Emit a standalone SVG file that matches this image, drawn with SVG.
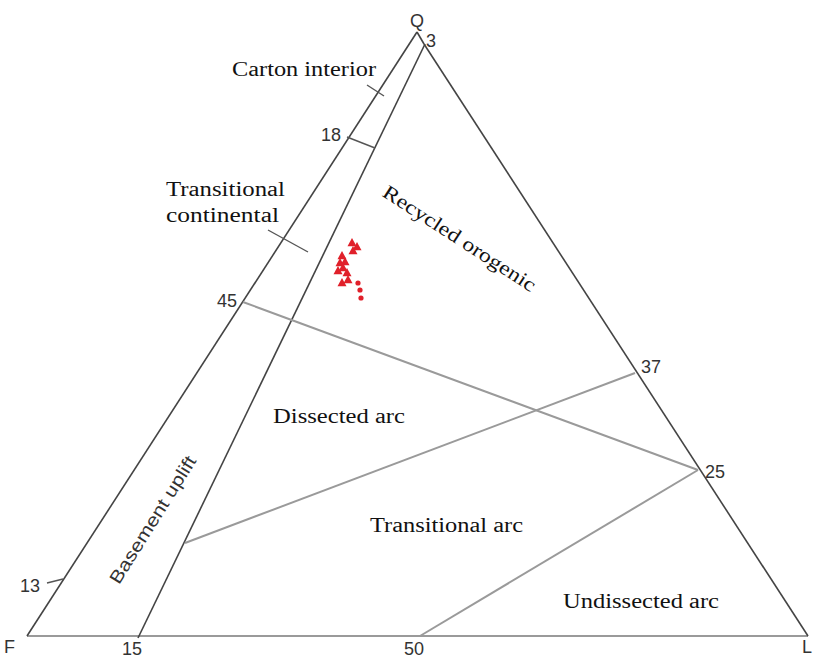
<svg xmlns="http://www.w3.org/2000/svg" width="814" height="660" viewBox="0 0 814 660">
<style>
.side{stroke:#444;stroke-width:1.6;fill:none}
.div{stroke:#9a9a9a;stroke-width:2;fill:none}
.tick{stroke:#555;stroke-width:1.4;fill:none}
.lab{font-family:"Liberation Serif","Times New Roman",serif;font-size:20px;fill:#111}
.num{font-family:"Liberation Sans",Arial,sans-serif;font-size:18px;fill:#333}
.pt{fill:#e0202a}
</style>
<defs>
<path id="tri" d="M0,-5 L4.5,3.2 L-4.5,3.2 Z"/>
</defs>
<rect width="814" height="660" fill="#fff"/>
<g id="connectors">
<line class="div" x1="27" y1="636" x2="808" y2="636"/>
<line class="side" x1="27" y1="636" x2="417" y2="32"/>
<line class="side" x1="417" y1="32" x2="424" y2="44"/>
<line class="side" x1="424" y1="44" x2="808" y2="636"/>
<line class="side" x1="138" y1="638" x2="425" y2="44"/>
<line class="div" x1="243" y1="302" x2="698" y2="470"/>
<line class="div" x1="635" y1="373" x2="185" y2="543"/>
<line class="div" x1="698" y1="470" x2="420" y2="636"/>
<line class="tick" x1="347" y1="137" x2="375" y2="148"/>
<line class="tick" x1="367" y1="85" x2="384" y2="96"/>
<line class="tick" x1="268" y1="230" x2="308" y2="252"/>
<line class="tick" x1="47" y1="583" x2="63" y2="579"/>
</g>
<g id="vertex-labels">
<text class="num" x="410" y="27">Q</text>
<text class="num" x="426" y="47">3</text>
<text class="num" x="4" y="653">F</text>
<text class="num" x="802" y="653">L</text>
</g>
<g id="axis-values">
<text class="num" x="321" y="141">18</text>
<text class="num" x="217" y="307">45</text>
<text class="num" x="641" y="373">37</text>
<text class="num" x="705" y="478">25</text>
<text class="num" x="404" y="655">50</text>
<text class="num" x="122" y="655">15</text>
<text class="num" x="20" y="592">13</text>
</g>
<g id="fields">
<text class="lab" x="232" y="76" textLength="144" lengthAdjust="spacingAndGlyphs">Carton interior</text>
<text class="lab" x="166" y="196" textLength="119" lengthAdjust="spacingAndGlyphs">Transitional</text>
<text class="lab" x="166" y="222" textLength="113" lengthAdjust="spacingAndGlyphs">continental</text>
<text class="lab" text-anchor="middle" transform="translate(456,244) rotate(33)" textLength="178" lengthAdjust="spacingAndGlyphs">Recycled orogenic</text>
<text class="lab" x="273" y="423" textLength="132" lengthAdjust="spacingAndGlyphs">Dissected arc</text>
<text class="lab" x="370" y="532" textLength="153" lengthAdjust="spacingAndGlyphs">Transitional arc</text>
<text class="lab" x="563" y="608" textLength="156" lengthAdjust="spacingAndGlyphs">Undissected arc</text>
<text class="num" text-anchor="middle" transform="translate(158,523) rotate(-58)" textLength="147" lengthAdjust="spacingAndGlyphs">Basement uplift</text>
</g>
<g id="data">
<use href="#tri" class="pt" x="352" y="243"/>
<use href="#tri" class="pt" x="357" y="247"/>
<use href="#tri" class="pt" x="353" y="251"/>
<use href="#tri" class="pt" x="342" y="256"/>
<use href="#tri" class="pt" x="340" y="263"/>
<use href="#tri" class="pt" x="345" y="262"/>
<use href="#tri" class="pt" x="343" y="268"/>
<use href="#tri" class="pt" x="338" y="271"/>
<use href="#tri" class="pt" x="347" y="273"/>
<use href="#tri" class="pt" x="342" y="283"/>
<use href="#tri" class="pt" x="348" y="280"/>
<circle class="pt" cx="358" cy="283" r="2.6"/>
<circle class="pt" cx="360" cy="290" r="2.6"/>
<circle class="pt" cx="361" cy="298" r="2.6"/>
</g>
</svg>
